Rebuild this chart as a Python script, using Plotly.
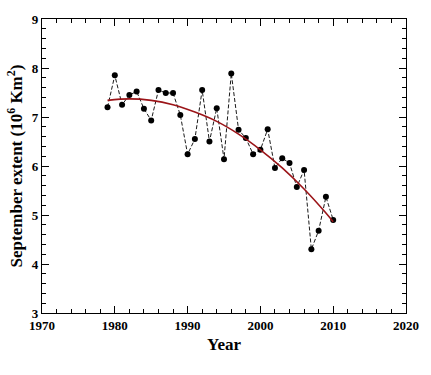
import plotly.graph_objects as go

years = list(range(1979, 2011))
extent = [7.20, 7.85, 7.25, 7.45, 7.52, 7.17, 6.93, 7.55, 7.49, 7.49,
          7.04, 6.24, 6.55, 7.55, 6.50, 7.18, 6.14, 7.89, 6.74, 6.57,
          6.24, 6.33, 6.75, 5.96, 6.16, 6.06, 5.57, 5.92, 4.30, 4.68,
          5.37, 4.90]

fit_years = [1979, 1982, 1985, 1988, 1991, 1994, 1997, 2000, 2003, 2006, 2009, 2010]
fit_values = [7.34, 7.37, 7.34, 7.25, 7.10, 6.91, 6.65, 6.33, 5.96, 5.53, 5.04, 4.86]

x_ticks = [1970, 1980, 1990, 2000, 2010, 2020]
y_ticks = [3, 4, 5, 6, 7, 8, 9]

font_family = "Liberation Serif, Times New Roman, serif"

fig = go.Figure()
fig.add_trace(go.Scatter(
    x=years, y=extent, mode="lines+markers",
    line=dict(color="black", width=0.9, dash="4px,2px"),
    marker=dict(color="black", size=6),
    showlegend=False,
))
fig.add_trace(go.Scatter(
    x=fit_years, y=fit_values, mode="lines",
    line=dict(color="#9b1418", width=1.6, shape="spline"),
    showlegend=False,
))

axis_common = dict(
    showline=True, linecolor="black", linewidth=1.2, mirror="allticks",
    ticks="inside", ticklen=7, tickwidth=1, tickcolor="black",
    showgrid=False, zeroline=False,
    tickfont=dict(family=font_family, size=13, color="black", weight="bold"),
)

fig.update_layout(
    width=431, height=375,
    margin=dict(l=42, r=18, t=15, b=62),
    paper_bgcolor="white", plot_bgcolor="white",
    font=dict(family=font_family, color="black"),
    xaxis=dict(
        range=[1970, 2020], tickvals=x_ticks,
        ticktext=[str(v) for v in x_ticks],
        minor=dict(dtick=2, ticks="inside", ticklen=4, tickcolor="black"),
        title=dict(text="<b>Year</b>", font=dict(family=font_family, size=17), standoff=6),
        **axis_common,
    ),
    yaxis=dict(
        range=[3, 9], tickvals=y_ticks,
        ticktext=[str(v) for v in y_ticks],
        minor=dict(dtick=0.2, ticks="inside", ticklen=4, tickcolor="black"),
        title=dict(text="<b>September extent (10<sup>6</sup> Km<sup>2</sup>)</b>",
                   font=dict(family=font_family, size=17), standoff=4),
        **axis_common,
    ),
)

fig.write_html("out.html", config={"displayModeBar": False},
               post_script="document.body.style.margin='0';")
